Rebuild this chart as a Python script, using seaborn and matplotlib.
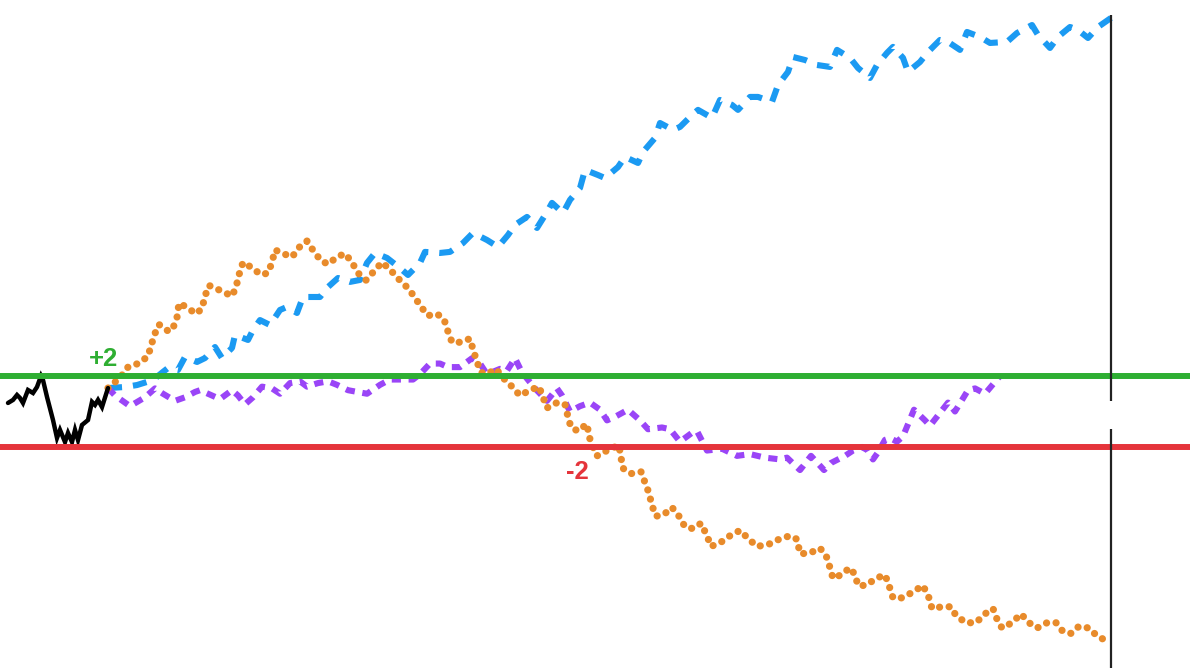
import matplotlib
matplotlib.use("Agg")
import matplotlib.pyplot as plt
import pandas as pd
import seaborn as sns

# ---- data (time step, walk value) ----
history = [(0.0, 0.48), (0.5, 0.65), (0.9, 0.93), (1.2, 0.76), (1.5, 0.48), (2.0, 1.21),
           (2.5, 1.04), (2.9, 1.38), (3.3, 2.0), (3.5, 1.77), (3.9, 0.82), (4.5, -0.48),
           (4.9, -1.49), (5.2, -1.04), (5.7, -1.72), (6.0, -1.21), (6.4, -1.72), (6.7, -1.04),
           (7.0, -1.61), (7.4, -0.76), (8.0, -0.48), (8.4, 0.54), (8.7, 0.37), (9.0, 0.65),
           (9.4, 0.25), (10.0, 1.32)]

path_up = [(10.0, 1.32), (11.7, 1.38), (12.9, 1.49), (14.5, 1.77), (15.5, 2.23), (16.0, 2.45),
           (17.0, 2.34), (17.7, 3.07), (18.9, 2.79), (19.7, 3.01), (20.7, 3.63), (21.4, 3.01),
           (22.4, 3.58), (22.7, 4.31), (24.0, 4.03), (24.5, 4.59), (25.2, 5.15), (26.2, 4.87),
           (27.2, 5.72), (27.9, 5.89), (28.9, 5.55), (29.5, 6.45), (31.2, 6.45), (31.9, 6.96),
           (33.0, 7.52), (34.2, 7.30), (35.2, 7.41), (35.9, 8.37), (36.7, 8.93), (37.9, 8.65),
           (39.2, 8.08), (40.0, 7.69), (41.2, 8.37), (41.7, 8.99), (43.2, 8.93), (44.2, 8.99),
           (45.5, 9.49), (46.5, 10.06), (47.9, 9.66), (49.0, 9.27), (50.0, 9.94), (50.7, 10.51),
           (51.9, 10.96), (52.9, 10.34), (53.9, 11.24), (54.4, 11.75), (55.5, 11.18), (56.2, 11.92),
           (57.2, 12.59), (57.7, 13.61), (59.0, 13.32), (59.7, 13.15), (61.0, 13.77), (61.7, 14.34),
           (63.0, 14.00), (63.5, 14.62), (64.7, 15.41), (65.2, 16.25), (66.5, 15.86), (67.2, 16.03),
           (68.4, 16.70), (69.0, 16.99), (70.4, 16.54), (71.2, 17.55), (72.4, 17.27), (73.0, 16.99),
           (74.2, 17.72), (75.0, 17.72), (76.4, 17.44), (77.0, 18.39), (78.0, 19.13), (78.5, 19.97),
           (79.7, 19.80), (80.9, 19.52), (82.2, 19.41), (82.9, 20.37), (84.2, 19.92), (85.0, 19.35),
           (86.2, 18.79), (86.9, 19.52), (87.9, 20.20), (88.5, 20.54), (89.5, 19.92), (90.0, 19.13),
           (91.2, 19.69), (92.0, 20.25), (93.2, 20.93), (94.0, 20.82), (95.2, 20.37), (95.9, 21.38),
           (97.2, 21.10), (98.2, 20.76), (99.9, 20.82), (100.9, 21.32), (102.4, 21.77), (103.0, 21.21),
           (104.2, 20.48), (105.0, 21.10), (106.2, 21.66), (107.0, 21.49), (108.0, 21.04),
           (109.0, 21.66), (110.3, 22.17)]

path_down = [(10.0, 1.32), (11.2, 1.9), (12.0, 2.5), (13.0, 2.7), (14.0, 3.1), (14.3, 3.7),
             (14.7, 4.4), (15.1, 4.9), (16.1, 4.5), (16.5, 4.7), (16.9, 5.3), (17.1, 6.1),
             (17.8, 5.9), (18.8, 5.5), (19.4, 5.8), (19.7, 6.5), (20.1, 7.1), (21.3, 6.8),
             (22.4, 6.5), (22.8, 7.0), (23.1, 7.7), (23.5, 8.4), (24.4, 8.1), (25.3, 7.7),
             (26.0, 7.8), (26.4, 8.4), (26.7, 9.1), (27.5, 8.9), (28.4, 8.7), (29.2, 9.3),
             (29.9, 9.6), (30.6, 9.0), (31.3, 8.5), (32.0, 8.3), (32.9, 8.7), (33.7, 8.9),
             (34.4, 8.4), (35.0, 7.8), (35.8, 7.4), (36.6, 7.9), (37.4, 8.4), (38.2, 8.0),
             (39.0, 7.5), (39.9, 7.0), (40.6, 6.5), (41.3, 5.9), (42.0, 5.4), (42.9, 5.5),
             (43.6, 5.2), (44.0, 4.5), (44.4, 3.9), (45.2, 3.9), (46.2, 4.1), (46.5, 3.5),
             (46.9, 2.8), (47.3, 2.2), (47.9, 2.1), (48.8, 2.4), (49.5, 1.9), (50.4, 1.4),
             (51.2, 0.9), (52.2, 1.2), (53.1, 1.4), (53.5, 0.8), (53.9, 0.2), (54.9, 0.5),
             (55.7, 0.4), (56.0, -0.3), (56.3, -0.9), (57.0, -1.1), (57.9, -0.7), (58.1, -1.4),
             (58.5, -2.0), (58.9, -2.5), (59.9, -2.2), (61.1, -1.9), (61.3, -2.6), (61.5, -3.2),
             (62.3, -3.5), (63.3, -3.4), (63.7, -4.0), (64.1, -4.6), (64.4, -5.3), (64.8, -5.9),
             (65.6, -5.8), (66.4, -5.4), (67.1, -5.9), (67.7, -6.5), (68.5, -6.6), (69.3, -6.3),
             (69.9, -7.0), (70.3, -7.6), (71.2, -7.4), (72.2, -7.0), (73.2, -6.7), (74.1, -7.2),
             (74.9, -7.6), (76.0, -7.5), (77.1, -7.2), (78.2, -7.0), (78.9, -7.2), (79.2, -8.0),
             (80.1, -8.0), (81.2, -7.7), (81.8, -8.1), (82.2, -8.8), (82.5, -9.4), (83.3, -9.2),
             (84.2, -8.8), (84.7, -9.2), (85.0, -9.8), (85.8, -9.8), (86.8, -9.4), (87.7, -9.2),
             (88.1, -9.8), (88.5, -10.5), (89.4, -10.5), (90.4, -10.2), (91.5, -9.8), (92.1, -10.5),
             (92.4, -11.1), (93.4, -11.0), (94.3, -11.0), (94.8, -11.5), (95.8, -11.9), (96.8, -11.9),
             (97.7, -11.4), (98.5, -11.1), (98.9, -11.7), (99.4, -12.2), (100.4, -11.9), (101.3, -11.4),
             (102.1, -11.9), (102.9, -12.2), (103.9, -11.9), (104.8, -11.9), (105.5, -12.4),
             (106.3, -12.5), (107.1, -12.1), (108.1, -12.2), (109.0, -12.7), (110.3, -13.0)]

path_hit = [(10.0, 1.32), (10.7, 0.9), (12.2, 0.3), (13.7, 0.8), (14.7, 1.3), (15.5, 1.0),
            (16.7, 0.6), (17.7, 0.8), (18.7, 1.1), (19.2, 1.2), (20.0, 1.0), (21.2, 0.7),
            (22.4, 1.2), (23.0, 0.9), (23.7, 0.4), (24.5, 0.8), (25.4, 1.4), (26.4, 1.3),
            (27.2, 1.0), (28.2, 1.6), (29.2, 1.7), (29.9, 1.4), (31.0, 1.6), (32.0, 1.7),
            (32.9, 1.5), (34.0, 1.2), (35.9, 1.0), (37.2, 1.5), (38.2, 1.8), (39.5, 1.8),
            (40.5, 1.8), (41.2, 2.1), (42.2, 2.7), (43.2, 2.7), (44.0, 2.5), (45.2, 2.5),
            (46.4, 3.0), (47.2, 2.7), (47.9, 2.1), (49.2, 2.4), (49.9, 2.3), (50.7, 3.0),
            (51.4, 2.2), (52.7, 1.3), (53.9, 0.6), (54.9, 1.3), (55.4, 0.9), (56.2, 0.0),
            (57.2, 0.3), (58.2, 0.5), (59.2, 0.1), (59.9, -0.5), (60.7, -0.3), (62.0, 0.1),
            (63.2, -0.5), (64.0, -1.0), (65.4, -0.9), (66.2, -1.0), (67.2, -1.7), (68.4, -1.2),
            (68.9, -1.1), (69.9, -2.2), (71.4, -2.1), (72.9, -2.5), (74.2, -2.4), (75.7, -2.6),
            (77.2, -2.7), (77.9, -2.6), (79.2, -3.3), (80.3, -2.5), (81.6, -3.3), (82.3, -2.9),
            (83.7, -2.5), (84.5, -2.2), (85.4, -2.0), (86.0, -2.2), (86.5, -2.7), (87.0, -2.3),
            (87.7, -1.6), (88.2, -1.5), (88.9, -1.7), (89.5, -1.4), (90.6, 0.1), (91.7, -0.5),
            (92.2, -0.8), (94.0, 0.5), (94.7, 0.0), (96.0, 1.2), (96.7, 1.3), (97.7, 1.0),
            (99.2, 2.0)]

upper_barrier = 2
lower_barrier = -2
barrier_labels = ["+2", "-2"]
horizon = 110.3
horizon_gap = (-1.0, 0.6)

# ---- styling ----
sns.set_style("white")
plt.rcParams["font.family"] = ["Liberation Sans", "DejaVu Sans"]

fig = plt.figure(figsize=(11.9, 6.68), dpi=100)
ax = fig.add_axes([0, 0, 1, 1])

def draw(path, **kw):
    df = pd.DataFrame(path, columns=["t", "v"])
    sns.lineplot(data=df, x="t", y="v", sort=False, estimator=None, ax=ax, legend=False, **kw)

draw(history, color="#000000", linewidth=3.2, solid_joinstyle="miter", zorder=3)
draw(path_up, color="#1b9af2", linewidth=4.4, linestyle=(0, (2.3, 1.8)), dash_capstyle="butt", zorder=2)
draw(path_hit, color="#9a45f7", linewidth=4.4, linestyle=(0, (1.5, 1.25)), dash_capstyle="butt", zorder=2)
draw(path_down, color="#e88b2b", linewidth=5.2, linestyle=(0, (0.01, 1.32)), dash_capstyle="round", zorder=2)

ax.axhline(upper_barrier, color="#2eae32", linewidth=4.3, zorder=4)
ax.axhline(lower_barrier, color="#e5343b", linewidth=4.3, zorder=4)

ax.vlines(horizon, horizon_gap[1], 22.35, color="#222222", linewidth=1.6, zorder=5)
ax.vlines(horizon, -16, horizon_gap[0], color="#222222", linewidth=1.6, zorder=5)

ax.text(9.6, 2.56, barrier_labels[0], color="#2eae32", fontsize=18.5, fontweight="bold",
        ha="center", va="baseline", zorder=6)
ax.text(56.9, -3.8, barrier_labels[1], color="#e5343b", fontsize=18.5, fontweight="bold",
        ha="center", va="baseline", zorder=6)

ax.set_xlim(-0.8, 118.2)
ax.set_ylim(-14.45, 23.18)
ax.axis("off")

fig.savefig("out.png", dpi=100)
